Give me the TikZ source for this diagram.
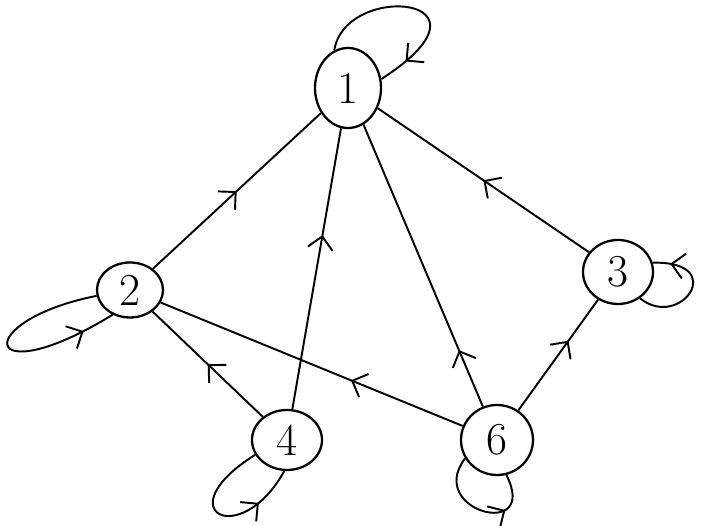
\documentclass[tikz,border=0pt]{standalone}
\usetikzlibrary{shapes.geometric,arrows.meta,decorations.markings}
\begin{document}
\begin{tikzpicture}[
	vert/.style={draw, ellipse, line width=1.3pt, inner sep=0pt, font=\fontsize{26}{28}\selectfont},
	edg/.style={line width=1.1pt, postaction={decorate}, decoration={markings, mark=at position #1 with {\arrow{Straight Barb[length=2.5mm, width=5mm, line width=1.1pt]}}}},
	edg/.default=0.5
]
	\useasboundingbox (0,0) rectangle (14.28,10.52);
	\node[vert, minimum width=1.32cm, minimum height=1.6cm] (n1) at (6.96,8.76) {1};
	\node[vert, minimum width=1.32cm, minimum height=1.1cm] (n2) at (2.60,4.72) {2};
	\node[vert, minimum width=1.4cm, minimum height=1.28cm] (n3) at (12.36,5.08) {3};
	\node[vert, minimum width=1.4cm, minimum height=1.2cm] (n4) at (5.74,1.72) {4};
	\node[vert, minimum width=1.44cm, minimum height=1.4cm] (n6) at (9.94,1.72) {6};
	\draw[edg] (n2) -- (n1);
	\draw[edg=0.62] (n4) -- (n1);
	\draw[edg=0.2] (n6) -- (n1);
	\draw[edg] (n3) -- (n1);
	\draw[edg=0.37] (n6) -- (n2);
	\draw[edg] (n4) -- (n2);
	\draw[edg=0.63] (n6) -- (n3);
	\draw[edg=0.85] (n1.110) .. controls (6.9,10.9) and (10.2,10.6) .. (n1.15);
	\draw[edg=0.85] (n2.190) .. controls (-0.6,4.1) and (-0.4,2.6) .. (n2.235);
	\draw[edg=0.85] (n3.-50) .. controls (13.6,3.9) and (14.6,5.3) .. (n3.15);
	\draw[edg=0.75] (n4.205) .. controls (3.3,0.3) and (4.8,-0.5) .. (n4.265);
	\draw[edg=0.7] (n6.210) .. controls (8.5,0.3) and (10.8,-0.3) .. (n6.285);
\end{tikzpicture}
\end{document}
